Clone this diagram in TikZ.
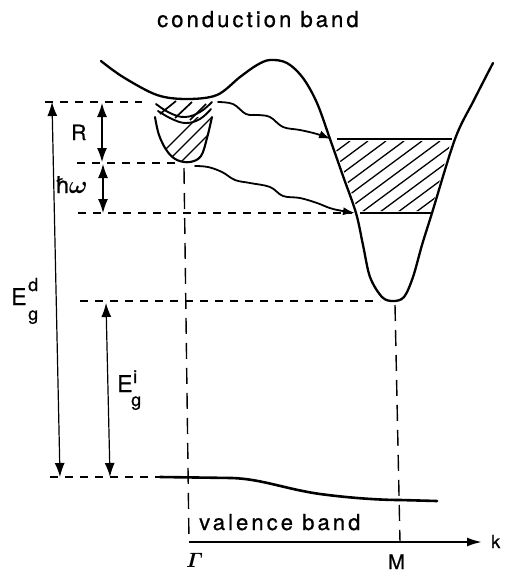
\documentclass[tikz,border=0pt]{standalone}
\usepackage{amsmath}
\usepackage{fontspec}
\setmainfont{TeX Gyre Heros}[FakeBold=0.8]
\newfontfamily\spaced[LetterSpace=14,FakeBold=0.8]{TeX Gyre Heros}
\usetikzlibrary{arrows.meta}
\begin{document}
\begin{tikzpicture}[x=1pt,y=-1pt,
  band/.style={line width=2.3pt, line cap=round, line join=round},
  vband/.style={line width=2.6pt, line cap=round},
  hdash/.style={line width=1.9pt, dash pattern=on 8pt off 7pt},
  vdash/.style={line width=1.4pt, dash pattern=on 16pt off 9pt},
  dimarrow/.style={line width=1.2pt, {Latex[length=14pt,width=10pt]}-{Latex[length=14pt,width=10pt]}},
  wavy/.style={line width=1.8pt, line cap=round, -{Latex[length=12pt,width=8pt]}},
  level/.style={line width=1.9pt},
  hatch/.style={line width=1.3pt},
  lbl/.style={inner sep=0pt, anchor=base west}
]
\useasboundingbox (0,0) rectangle (504,573);

% title
\node[lbl, font=\spaced\fontsize{22}{26}\selectfont] (title) at (157,27) {conduction band};

% conduction band
\draw[band] plot[smooth, tension=0.55] coordinates {(101,61) (123,77) (157,95) (187,99) (217,95) (240,77) (257,65) (270,60) (287,63) (303,78) (317,103) (330,139) (343,176) (356,213) (363,245) (370,277) (382,297) (393,301) (404,297) (413,277) (422,245) (432,213) (455,139) (474,100) (493,63)};

% small pocket at Gamma
\draw[band, line width=2.1pt] plot[smooth, tension=0.6] coordinates {(155,117) (159,135) (167,151) (177,160) (190,162) (201,156) (207,138) (212,117)};
\begin{scope}
  \clip plot[smooth, tension=0.6] coordinates {(155,117) (159,135) (167,151) (177,160) (190,162) (201,156) (207,138) (212,117)} -- cycle;
  \foreach \s in {250,264,...,330}
    \draw[hatch] (\s-110,175) -- (\s-40,105);
\end{scope}
\draw[band, line width=1.9pt] plot[smooth, tension=0.7] coordinates {(156,104) (170,113) (185,117) (200,112) (212,102)};
\draw[band, line width=1.9pt] plot[smooth, tension=0.7] coordinates {(158,111) (172,119) (186,123) (200,119) (211,109)};
\draw[hatch, line width=1.7pt] (160,114) -- (176,101);
\draw[hatch, line width=1.7pt] (175,118) -- (192,102);
\draw[hatch, line width=1.7pt] (190,120) -- (206,104);

% levels in M valley
\draw[level] (337,139) -- (452,139);
\draw[level] (360,213) -- (432,213);
\begin{scope}
  \clip (333,141) -- (451,141) -- (431,211) -- (358,211) -- cycle;
  \foreach \s in {250,268,...,470}
    \draw[hatch] (\s,215) -- ++(100,-74);
\end{scope}

% wavy transitions
\coordinate (w1s) at (218,102);
\coordinate (w1e) at (331,139);
\coordinate (w2s) at (195,166);
\coordinate (w2e) at (355,213);
\draw[wavy] plot[smooth, tension=0.6] coordinates {(w1s) (233,104) (246,114) (258,115) (270,117) (283,127) (300,130) (317,134) (w1e)};
\draw[wavy] plot[smooth, tension=0.6] coordinates {(w2s) (208,167) (222,172) (235,180) (250,183) (270,187) (283,196) (300,198) (317,203) (333,209) (w2e)};

% horizontal dashed reference levels
\coordinate (l1a) at (45,102);  \coordinate (l1b) at (142,102);
\coordinate (l2a) at (77,163);  \coordinate (l2b) at (178,163);
\coordinate (l3a) at (78,213);  \coordinate (l3b) at (352,213);
\coordinate (l4a) at (80,301);  \coordinate (l4b) at (380,301);
\coordinate (l5a) at (50,477);  \coordinate (l5b) at (160,477);
\draw[hdash] (l1a) -- (l1b);
\draw[hdash] (l2a) -- (l2b);
\draw[hdash] (l3a) -- (l3b);
\draw[hdash] (l4a) -- (l4b);
\draw[hdash] (l5a) -- (l5b);

% vertical dashed lines
\coordinate (G) at (189,542);
\coordinate (M) at (400,542);
\draw[vdash] (184,168) -- (G);
\draw[vdash] (395,305) -- (M);

% valence band
\draw[vband] (160,477) -- (232,478) .. controls (262,479) and (285,489) .. (320,494) .. controls (350,498) and (380,500) .. (400,500) -- (437,501);

% k axis
\coordinate (kend) at (482,542);
\draw[line width=2.1pt, -{Latex[length=15pt,width=9pt]}] (G) -- (kend);

% dimension arrows
\draw[dimarrow] (52,102) -- (60,477);
\draw[dimarrow] (102,103) -- (102,162);
\draw[dimarrow] (103,164) -- (103,213);
\draw[dimarrow] (106,303) -- (110,477);

% labels
\node[lbl, font=\fontsize{21}{24}\selectfont] (R) at (71,140) {R};
\node[lbl, font=\fontsize{23}{26}\selectfont] (hw) at (55,193) {ħ$\boldsymbol{\omega}$};
\node[lbl, font=\fontsize{23}{26}\selectfont] (Ed) at (11,305) {E};
\node[lbl, font=\fontsize{18}{20}\selectfont] (Edd) at (28,291) {d};
\node[lbl, font=\fontsize{18}{20}\selectfont] (Edg) at (28,320) {g};
\node[lbl, font=\fontsize{23}{26}\selectfont] (Ei) at (117,392) {E};
\node[lbl, font=\fontsize{18}{20}\selectfont] (Eii) at (133,383) {i};
\node[lbl, font=\fontsize{18}{20}\selectfont] (Eig) at (131,406) {g};
\node[lbl, font=\fontsize{22}{26}\selectfont] (Gl) at (186,567) {$\boldsymbol{\varGamma}$};
\node[lbl, font=\fontsize{20}{24}\selectfont] (Ml) at (388,569) {M};
\node[lbl, font=\fontsize{18}{22}\selectfont] (kl) at (491,548) {k};
\node[lbl, font=\spaced\fontsize{22}{26}\selectfont] (vb) at (199,530) {valence band};
\end{tikzpicture}
\end{document}
